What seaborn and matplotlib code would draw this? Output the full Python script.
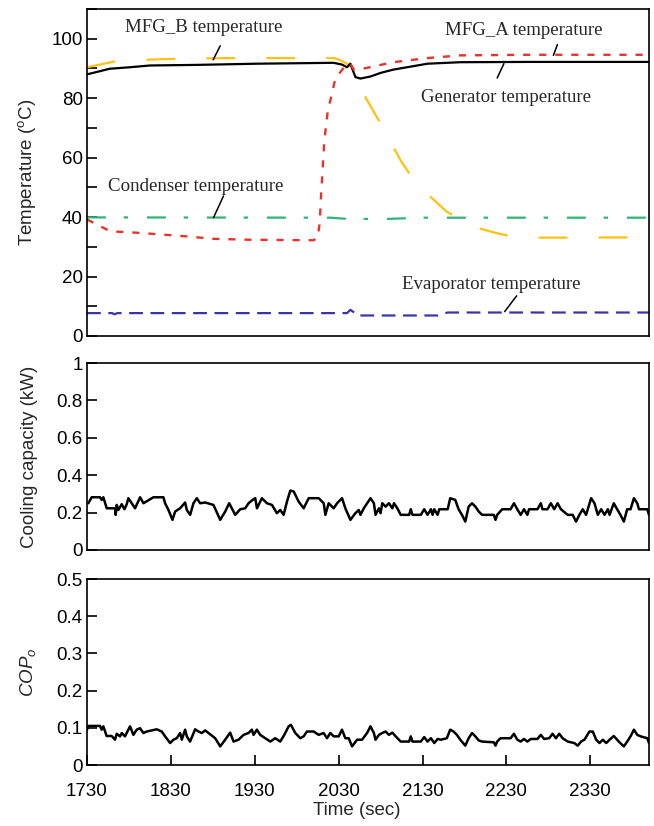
import matplotlib
matplotlib.use("Agg")
import matplotlib.pyplot as plt
import seaborn as sns
import numpy as np
from matplotlib.ticker import FuncFormatter, MultipleLocator

# ---------------- data ----------------
gen_t = [1730, 1757, 1781, 1805, 1861, 1933, 2024, 2034, 2040, 2044, 2050, 2056, 2068, 2080, 2095, 2136, 2175, 2255, 2320, 2400]
gen_T = [88.0, 89.9, 90.4, 91.0, 91.2, 91.6, 91.9, 91.3, 90.4, 91.6, 87.1, 86.6, 87.3, 88.5, 89.6, 91.6, 92.1, 92.2, 92.2, 92.2]

mfgb_t = [1730, 1762, 1796, 1830, 1897, 2024, 2030, 2040, 2048, 2062, 2083, 2104, 2119, 2134, 2158, 2171, 2185, 2217, 2239, 2251, 2295, 2400]
mfgb_T = [90.4, 92.3, 92.9, 93.2, 93.5, 93.5, 93.0, 91.6, 89.9, 80.3, 70.0, 59.0, 52.7, 48.3, 42.0, 39.8, 37.2, 34.7, 33.3, 33.1, 33.1, 33.2]

mfga_t = [1730, 1746, 1758, 1781, 1821, 1849, 1880, 1921, 2000, 2005, 2007.5, 2009, 2010.5, 2013, 2017, 2026, 2038, 2044, 2048, 2060, 2072, 2095, 2136, 2175, 2255, 2400]
mfga_T = [39.2, 36.9, 35.2, 34.9, 34.1, 33.5, 32.7, 32.4, 32.2, 33.1, 38.2, 47.1, 54.0, 66.0, 75.5, 86.5, 91.0, 91.6, 89.6, 90.0, 90.7, 92.1, 93.5, 94.4, 94.6, 94.6]

cond_t = [1730, 2020, 2040, 2090, 2130, 2400]
cond_T = [39.9, 39.8, 39.4, 39.4, 39.8, 39.8]

evap_t = [1730, 1760, 1763, 1766, 2040, 2044, 2048, 2052, 2148, 2156, 2160, 2400]
evap_T = [7.7, 7.7, 7.3, 7.7, 7.7, 8.8, 8.0, 6.9, 6.9, 7.6, 7.9, 7.9]

cc_t = [1731.6, 1735.6, 1745.5, 1747.5, 1749.5, 1753.5, 1763.4, 1764.2, 1765.4, 1767.4, 1771.4, 1774.6,
        1777.4, 1779.3, 1783.3, 1787.3, 1793.3, 1797.3, 1809.2, 1821.1, 1823.1, 1827.1, 1831.9, 1835.1,
        1841.0, 1847.0, 1849.0, 1853.0, 1856.9, 1860.9, 1864.9, 1870.9, 1880.8, 1888.8, 1894.8, 1899.5,
        1906.7, 1912.7, 1918.6, 1922.6, 1926.6, 1930.6, 1932.6, 1938.5, 1944.5, 1950.5, 1956.4, 1960.4,
        1964.4, 1968.4, 1972.4, 1976.4, 1982.3, 1988.3, 1994.3, 2006.2, 2012.2, 2014.2, 2018.1, 2024.1,
        2028.1, 2034.1, 2038.0, 2044.0, 2050.0, 2054.0, 2056, 2060, 2064, 2068, 2072, 2074, 2078, 2080,
        2082, 2086, 2090, 2094, 2096, 2100, 2104, 2114, 2116, 2118, 2128, 2132, 2136, 2140, 2142, 2144,
        2148, 2150, 2160, 2163, 2169, 2173, 2177, 2181, 2185, 2189, 2193, 2197, 2201, 2215, 2217, 2219,
        2225, 2235, 2239, 2243, 2247, 2251, 2255, 2257, 2267, 2271, 2273, 2279, 2283, 2287, 2291, 2295,
        2303, 2309, 2313, 2317, 2321, 2325, 2331, 2335, 2339, 2343, 2347, 2351, 2353, 2358, 2362, 2366,
        2370, 2374, 2378, 2382, 2386, 2388, 2398, 2400]
cc_v = [0.250, 0.282, 0.282, 0.268, 0.282, 0.223, 0.223, 0.188, 0.241, 0.214, 0.245, 0.218,
        0.245, 0.277, 0.250, 0.223, 0.282, 0.250, 0.282, 0.282, 0.250, 0.214, 0.161, 0.206,
        0.223, 0.254, 0.214, 0.188, 0.250, 0.277, 0.250, 0.254, 0.241, 0.161, 0.206, 0.250,
        0.188, 0.218, 0.223, 0.250, 0.265, 0.277, 0.223, 0.277, 0.250, 0.241, 0.197, 0.214,
        0.188, 0.259, 0.318, 0.313, 0.259, 0.223, 0.277, 0.277, 0.250, 0.188, 0.250, 0.223,
        0.250, 0.277, 0.223, 0.161, 0.197, 0.214, 0.188, 0.223, 0.250, 0.277, 0.250, 0.188, 0.223, 0.197,
        0.250, 0.232, 0.250, 0.223, 0.250, 0.223, 0.188, 0.188, 0.218, 0.188, 0.188, 0.218, 0.188, 0.218, 0.188, 0.218,
        0.188, 0.218, 0.218, 0.277, 0.268, 0.218, 0.188, 0.152, 0.232, 0.250, 0.232, 0.206, 0.188, 0.188, 0.161, 0.188,
        0.218, 0.218, 0.250, 0.218, 0.188, 0.218, 0.188, 0.218, 0.218, 0.250, 0.218, 0.218, 0.250, 0.218, 0.250, 0.218,
        0.188, 0.188, 0.152, 0.188, 0.218, 0.188, 0.277, 0.250, 0.188, 0.218, 0.188, 0.218, 0.188, 0.250, 0.218, 0.188,
        0.152, 0.218, 0.218, 0.277, 0.250, 0.218, 0.218, 0.188]

cop_t = [1730, 1731.5, 1745.5, 1747.5, 1749.5, 1753.4, 1759.4, 1763.4, 1765.4, 1769.4, 1771.4, 1775.3,
         1779.3, 1781.3, 1785.3, 1789.3, 1793.2, 1797.2, 1801.2, 1813.1, 1819.1, 1823.1, 1829.1, 1833.0,
         1837.0, 1841.0, 1843.0, 1847.0, 1849.0, 1852.9, 1858.9, 1862.9, 1866.9, 1870.9, 1874.8, 1882.8,
         1888.8, 1894.7, 1900.7, 1904.7, 1910.7, 1916.6, 1922.6, 1926.6, 1928.6, 1932.5, 1936.5, 1942.5,
         1948.5, 1954.4, 1960.4, 1965.2, 1970.4, 1973.1, 1978.3, 1984.3, 1988.3, 1992.2, 2000.2, 2006.2,
         2012.1, 2016.1, 2020.1, 2024.1, 2030.1, 2034.0, 2038.0, 2042.0, 2046.0, 2052.0, 2057.9, 2063.9,
         2067.9, 2072, 2074, 2078, 2082, 2086, 2090, 2094, 2098, 2104, 2114, 2116, 2118, 2128, 2132, 2136,
         2140, 2144, 2148, 2152, 2159, 2163, 2167, 2171, 2175, 2181, 2185, 2189, 2193, 2197, 2201, 2215,
         2217, 2219, 2223, 2235, 2239, 2243, 2247, 2251, 2255, 2259, 2267, 2271, 2275, 2281, 2285, 2289,
         2293, 2297, 2303, 2311, 2315, 2319, 2323, 2329, 2333, 2337, 2341, 2345, 2349, 2353, 2358, 2364,
         2370, 2374, 2378, 2382, 2386, 2390, 2398, 2400]
cop_v = [0.095, 0.105, 0.105, 0.095, 0.104, 0.078, 0.078, 0.068, 0.084, 0.077, 0.086, 0.077,
         0.095, 0.104, 0.081, 0.095, 0.099, 0.086, 0.090, 0.096, 0.090, 0.077, 0.059, 0.068,
         0.072, 0.086, 0.068, 0.095, 0.077, 0.063, 0.096, 0.090, 0.086, 0.093, 0.086, 0.072,
         0.050, 0.068, 0.087, 0.063, 0.068, 0.081, 0.086, 0.095, 0.081, 0.095, 0.081, 0.072,
         0.063, 0.072, 0.063, 0.081, 0.104, 0.108, 0.086, 0.072, 0.077, 0.090, 0.090, 0.081,
         0.086, 0.072, 0.086, 0.077, 0.077, 0.095, 0.072, 0.072, 0.050, 0.068, 0.068, 0.086,
         0.104, 0.086, 0.068, 0.081, 0.086, 0.090, 0.081, 0.087, 0.077, 0.063, 0.063, 0.077, 0.063, 0.063, 0.075, 0.063,
         0.072, 0.059, 0.070, 0.068, 0.072, 0.095, 0.090, 0.081, 0.068, 0.052, 0.072, 0.086, 0.077, 0.066, 0.063, 0.061,
         0.052, 0.063, 0.072, 0.072, 0.084, 0.068, 0.063, 0.070, 0.063, 0.070, 0.070, 0.081, 0.070, 0.072, 0.084, 0.072,
         0.084, 0.072, 0.063, 0.059, 0.052, 0.063, 0.068, 0.090, 0.090, 0.068, 0.059, 0.068, 0.059, 0.068, 0.078, 0.063,
         0.050, 0.063, 0.077, 0.095, 0.081, 0.077, 0.072, 0.059]

x_ticks = [1730, 1830, 1930, 2030, 2130, 2230, 2330]

# ---------------- style ----------------
sns.set_theme(style="ticks")
plt.rcParams["font.family"] = ["Liberation Sans", "DejaVu Sans"]
plt.rcParams["mathtext.fontset"] = "custom"
plt.rcParams["mathtext.rm"] = "Liberation Sans"
plt.rcParams["mathtext.it"] = "Liberation Sans:italic"
plt.rcParams["axes.linewidth"] = 1.2

FS = 13.5
fig = plt.figure(figsize=(6.54, 8.26), dpi=100)
L, W = 87 / 654, 562 / 654
ax1 = fig.add_axes([L, (826 - 336) / 826, W, 327 / 826])
ax2 = fig.add_axes([L, (826 - 550) / 826, W, 187 / 826])
ax3 = fig.add_axes([L, (826 - 765) / 826, W, 186 / 826])

def fmt(v, pos):
    return f"{v:g}"

def line(ax, t, v, color, lw, dashes=None):
    sns.lineplot(x=t, y=v, ax=ax, color=color, linewidth=lw, sort=False, estimator=None)
    ln = ax.get_lines()[-1]
    if dashes is not None:
        ln.set_dashes(dashes)
    return ln

# top panel
line(ax1, cond_t, cond_T, "#2fb57a", 1.6, (8.5, 8.0, 2.0, 8.5))
line(ax1, evap_t, evap_T, "#3b35a6", 1.6, (6.2, 3.4))
line(ax1, mfgb_t, mfgb_T, "#ffc20e", 1.6, (13, 14))
line(ax1, gen_t, gen_T, "black", 1.6)
line(ax1, mfga_t, mfga_T, "#e8322a", 1.7, (3.0, 3.8))

ax1.set_ylim(0, 110)
ax1.yaxis.set_major_locator(MultipleLocator(20))
ax1.yaxis.set_minor_locator(MultipleLocator(10))
ax1.set_ylabel("Temperature ($\\mathregular{^{o}}$C)", fontsize=FS)

serif = dict(family=["Liberation Serif", "DejaVu Serif"], fontsize=13.6, ha="center", va="center")
notes = [
    ("MFG_B temperature", 1869.7, 103.9, (1888.8, 97.6), (1880.4, 92.9)),
    ("MFG_A temperature", 2250.9, 102.8, (2290.8, 98.0), (2286.0, 94.4)),
    ("Generator temperature", 2230.0, 80.3, (2227.0, 91.6), (2219.0, 86.8)),
    ("Condenser temperature", 1860.0, 50.2, (1892.7, 47.1), (1880.8, 39.8)),
    ("Evaporator temperature", 2212.4, 17.2, (2242.2, 13.5), (2227.9, 8.2)),
]
for txt, tx, ty, p0, p1 in notes:
    ax1.text(tx, ty, txt, **serif)
    ax1.plot([p0[0], p1[0]], [p0[1], p1[1]], color="black", lw=1.1)

# middle panel
line(ax2, cc_t, cc_v, "black", 1.8)
ax2.set_ylim(0, 1)
ax2.yaxis.set_major_locator(MultipleLocator(0.2))
ax2.set_ylabel("Cooling capacity (kW)", fontsize=FS)

# bottom panel
line(ax3, cop_t, cop_v, "black", 1.8)
ax3.set_ylim(0, 0.5)
ax3.yaxis.set_major_locator(MultipleLocator(0.1))
ax3.set_ylabel("$COP_o$", fontsize=FS)
ax3.set_xlabel("Time (sec)", fontsize=FS)
ax3.set_xticks(x_ticks)

for ax in (ax1, ax2, ax3):
    ax.set_xlim(1730, 2400)
    ax.yaxis.set_major_formatter(FuncFormatter(fmt))
    ax.tick_params(axis="both", which="both", direction="in", length=7, width=1.2,
                   labelsize=FS, colors="black", pad=3)
    for s in ax.spines.values():
        s.set_visible(True)
        s.set_color("black")
        s.set_linewidth(1.2)
    ax.yaxis.set_label_coords(-0.087, 0.5)
for ax in (ax1, ax2):
    ax.tick_params(axis="x", which="both", length=0, labelbottom=False)
    ax.set_xlabel("")
ax3.tick_params(axis="x", pad=13)
ax3.xaxis.set_label_coords(0.48, -0.2)

fig.savefig("out.png", dpi=100)
